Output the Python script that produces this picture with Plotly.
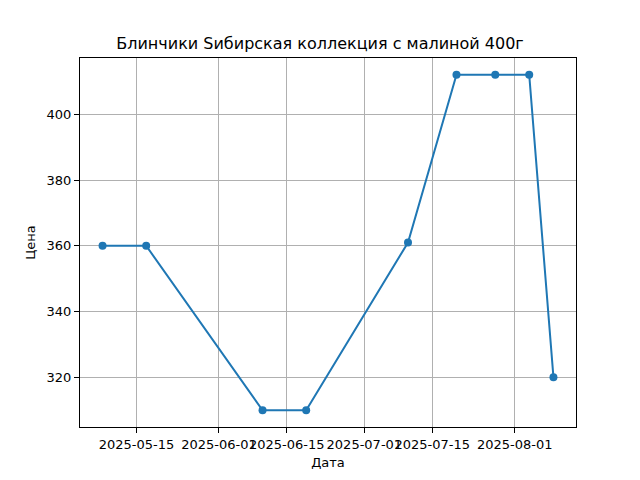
import plotly.graph_objects as go
import pandas as pd

dates = ["2025-05-08", "2025-05-17", "2025-06-10", "2025-06-19", "2025-07-10",
         "2025-07-20", "2025-07-28", "2025-08-04", "2025-08-09"]
prices = [360, 360, 310, 310, 361, 412, 412, 412, 320]
x_ticks = ["2025-05-15", "2025-06-01", "2025-06-15", "2025-07-01", "2025-07-15", "2025-08-01"]
y_ticks = [320, 340, 360, 380, 400]

d = pd.to_datetime(dates)
span = d.max() - d.min()
xr = [d.min() - span * 0.05, d.max() + span * 0.05]
yspan = max(prices) - min(prices)
yr = [min(prices) - yspan * 0.05, max(prices) + yspan * 0.05]

fig = go.Figure(go.Scatter(
    x=d, y=prices, mode="lines+markers",
    line=dict(color="#1f77b4", width=2),
    marker=dict(color="#1f77b4", size=8),
))

axis_common = dict(
    showline=True, linecolor="black", linewidth=1, mirror=True,
    ticks="outside", ticklen=5, tickcolor="black", tickwidth=1,
    showgrid=True, gridcolor="#b0b0b0", gridwidth=1, zeroline=False,
    tickfont=dict(size=13, color="black"), automargin=False, tickangle=0,
)

fig.update_layout(
    width=640, height=480,
    margin=dict(l=80, r=64, t=58, b=53),
    paper_bgcolor="white", plot_bgcolor="white",
    font=dict(family="DejaVu Sans", color="black"),
    showlegend=False,
    title=dict(text="Блинчики Sибирская коллекция с малиной 400г", x=0.5, xanchor="center",
               y=1 - 43 / 480, yanchor="middle", font=dict(size=16, color="black")),
    xaxis=dict(axis_common, range=xr, tickvals=pd.to_datetime(x_ticks), ticktext=x_ticks,
               title=dict(text="Дата", font=dict(size=13), standoff=7)),
    yaxis=dict(axis_common, range=yr, tickvals=y_ticks,
               title=dict(text="Цена", font=dict(size=13), standoff=8)),
)

fig.write_html("out.html", config={"displayModeBar": False},
               post_script="document.body.style.margin='0';document.body.style.padding='0';")
